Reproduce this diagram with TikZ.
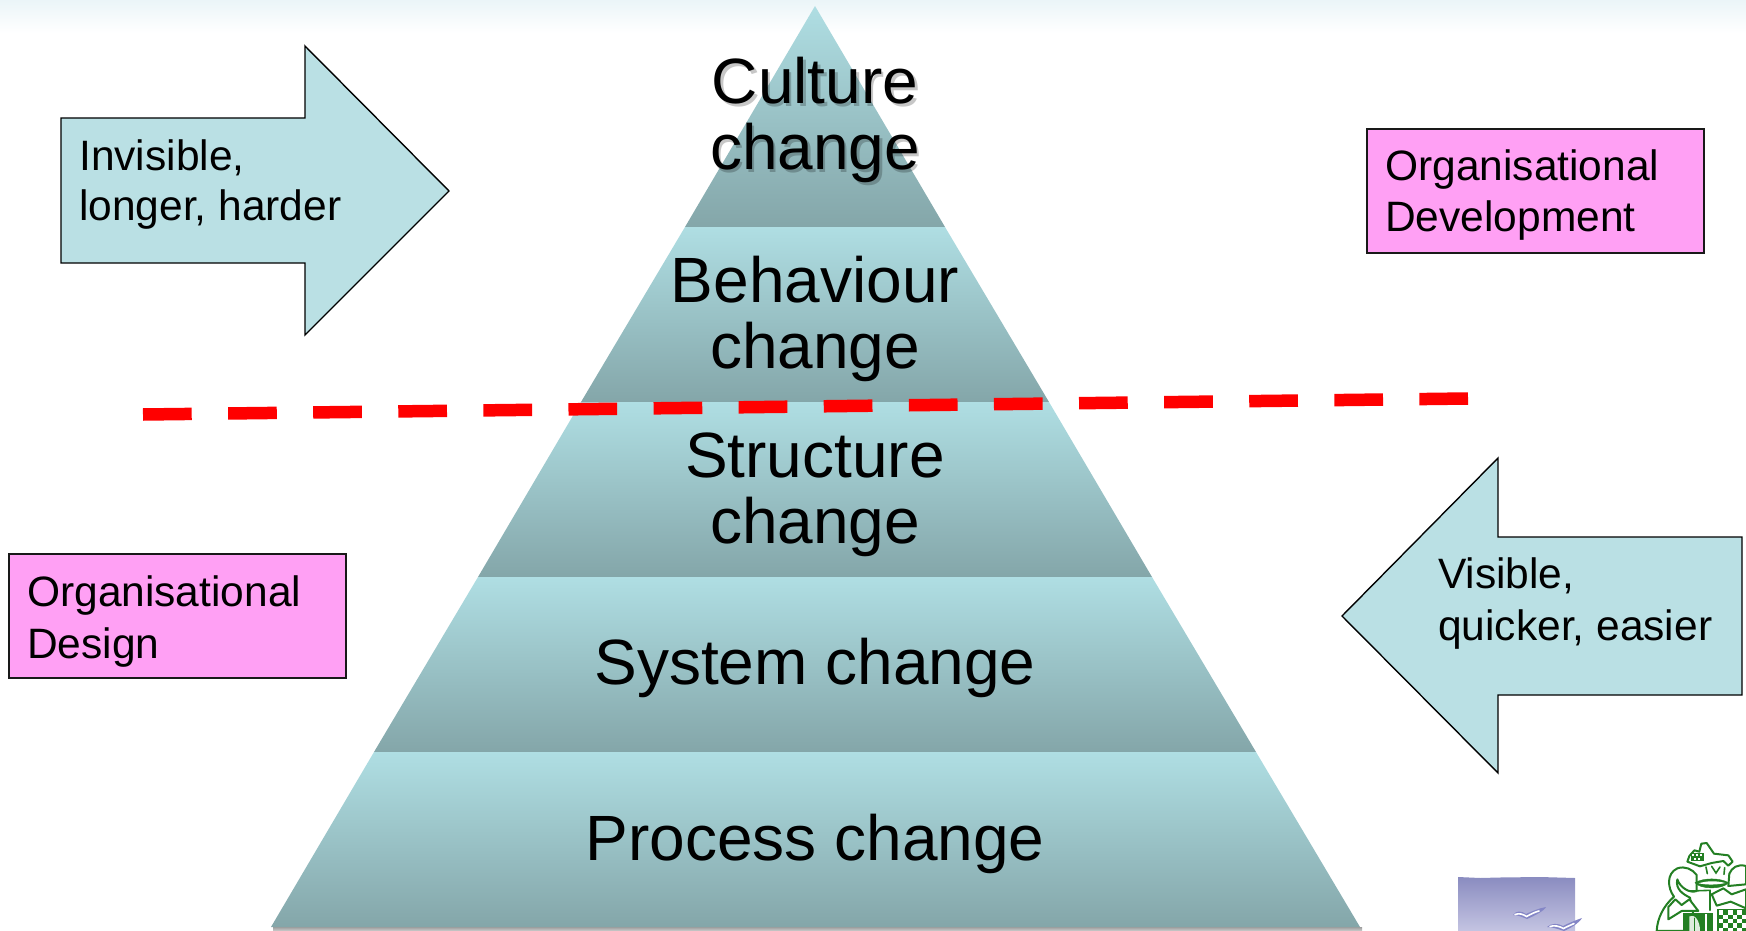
\documentclass[tikz,border=0pt]{standalone}
\usepackage{fontspec}
\setmainfont{Liberation Sans}
\definecolor{bandtop}{HTML}{AFDEE3}
\definecolor{bandbot}{HTML}{84A6A9}
\definecolor{arrowfill}{HTML}{BAE0E4}
\definecolor{pinkfill}{HTML}{FFA0F4}
\definecolor{crestgreen}{HTML}{237F23}
\definecolor{logotop}{HTML}{8A8CC0}
\definecolor{logobot}{HTML}{C4C4E2}
\definecolor{birdblue}{HTML}{8486C6}
\definecolor{pagetint}{HTML}{EBF5F8}
\tikzset{
  band/.style={top color=bandtop,bottom color=bandbot,draw=none},
  bigarrow/.style={draw=black,line width=1.4pt,fill=arrowfill,line join=miter},
  pinkbox/.style={draw=black!90,line width=1.6pt,fill=pinkfill,inner sep=0pt,rectangle},
  smalltext/.style={font=\fontsize{42.5}{51.5}\selectfont,align=left,inner sep=0pt,anchor=base west,text=black},
  invtext/.style={smalltext,font=\fontsize{42.5}{50}\selectfont},
  bigtext/.style={font=\fontsize{64}{65.5}\selectfont,align=center,inner sep=0pt,anchor=base,text=black},
  cutline/.style={draw=red,line width=12.5pt,dash pattern=on 48.7pt off 36.4pt},
  crestline/.style={draw=crestgreen,line width=2pt,line join=round,line cap=round,fill=white},
  crestthin/.style={draw=crestgreen,line width=1.6pt,line cap=round},
}
\begin{document}
\begin{tikzpicture}[x=1pt,y=-1pt]
\useasboundingbox (0,0) rectangle (1746,931);
% top tint of the page
\shade[top color=pagetint,bottom color=white] (0,0) rectangle (1746,33);
% soft shadow beneath the pyramid
\shade[top color=black!38,bottom color=white] (273,927) rectangle (1362,935);
% pyramid bands
\shade[band] (815,6) -- (945,227) -- (685,227) -- cycle;
\shade[band] (685,227) -- (945,227) -- (1049,402) -- (581,402) -- cycle;
\shade[band] (581,402) -- (1049,402) -- (1152,577) -- (478,577) -- cycle;
\shade[band] (478,577) -- (1152,577) -- (1256,752) -- (374,752) -- cycle;
\shade[band] (374,752) -- (1256,752) -- (1360,927) -- (271,927) -- cycle;
% pyramid labels
\node[bigtext,text=black,opacity=.22] (cultureshadow) at (817.5,172) {Culture\\change};
\node[bigtext] (culture) at (815,169) {Culture\\change};
\node[bigtext] (behaviour) at (815,368) {Behaviour\\change};
\node[bigtext] (structure) at (815,543) {Structure\\change};
\node[bigtext] (system) at (815,684) {System change};
\node[bigtext] (process) at (815,860) {Process change};
% dashed divider
\coordinate (cutL) at (143,414.5);
\coordinate (cutR) at (1468,398.5);
\draw[cutline] (cutL) -- (cutR);
% arrows
\draw[bigarrow] (61,118) -- (305,118) -- (305,46) -- (449,191) -- (305,335) -- (305,263) -- (61,263) -- cycle;
\node[invtext] (inv) at (79,220.5) {Invisible,\\longer, harder};
\draw[bigarrow] (1742,537) -- (1498,537) -- (1498,458) -- (1342,616) -- (1498,773) -- (1498,695) -- (1742,695) -- cycle;
\node[smalltext] (vis) at (1438,640) {Visible,\\quicker, easier};
% pink boxes
\node[pinkbox,minimum width=337pt,minimum height=124pt] (odbox) at (1535.5,191) {};
\node[smalltext] (od) at (1385,231.5) {Organisational\\Development};
\node[pinkbox,minimum width=337pt,minimum height=124pt] (dbox) at (177.5,616) {};
\node[smalltext] (de) at (27,658) {Organisational\\Design};
% logo with birds
\shade[top color=logotop,bottom color=logobot] (1458,877) -- (1480,878) -- (1500,877.5) -- (1540,877) -- (1575,878) -- (1575,931) -- (1458,931) -- cycle;
\fill[birdblue] (1513,915) .. controls (1516,910) and (1522,911) .. (1526,914) .. controls (1532,911) and (1540,908) .. (1546,907) .. controls (1544,911) and (1534,916) .. (1527,919) .. controls (1522,917) and (1518,915) .. (1513,915) -- cycle;
\draw[white,line width=1.6pt,line cap=round] (1515,914.5) .. controls (1519,913) and (1523,914) .. (1526.5,916.5) .. controls (1531,914) and (1535,912) .. (1539,911);
\fill[birdblue] (1547,927) .. controls (1551,923) and (1558,923) .. (1563,926) .. controls (1569,923) and (1576,920) .. (1582,918) .. controls (1579,923) and (1571,928) .. (1564,931) .. controls (1558,929) and (1552,927) .. (1547,927) -- cycle;
\draw[white,line width=1.6pt,line cap=round] (1550,926.5) .. controls (1554,925) and (1559,926) .. (1563.5,928.5) .. controls (1567,926.5) and (1571,925) .. (1574,923.5);
% crest (drawn in the reference's 3x crop coordinates)
\begin{scope}[shift={(1600,831)},x=.3333pt,y=-.3333pt]
  % left mantling
  \path[crestline] (170,300) .. controls (172,262) and (190,225) .. (222,197)
     .. controls (203,172) and (198,128) .. (232,112) .. controls (255,104) and (278,115) .. (290,132)
     -- (290,180) .. controls (270,188) and (240,170) .. (232,145) .. controls (225,175) and (250,190) .. (270,200) -- (290,300) -- cycle;
  % right mantling
  \path[crestline] (438,105) .. controls (412,98) and (396,110) .. (388,128) -- (385,165) -- (438,160) -- cycle;
  % lion
  \path[crestline] (268,75) -- (283,58) -- (298,62) -- (304,38) -- (320,36) -- (342,68) -- (385,73)
     -- (398,92) -- (385,104) -- (370,90) -- (335,96) -- (300,106) -- (262,92) -- cycle;
  \fill[crestgreen] (272,66) rectangle (312,90);
  \foreach \a/\b in {277/70,289/70,301/70,283/80,295/80} \fill[white] (\a,\b) rectangle +(6,6);
  \draw[crestthin] (318,108) -- (322,128) (335,106) -- (348,126) -- (360,108) (374,110) -- (372,130);
  % helmet band
  \path[fill=crestgreen,draw=crestgreen] (285,155) .. controls (310,140) and (360,140) .. (385,155) .. controls (370,176) and (300,176) .. (285,155) -- cycle;
  \fill[white] (296,157) .. controls (320,149) and (350,149) .. (376,156) .. controls (350,162) and (320,162) .. (296,157) -- cycle;
  % leaves
  \path[crestline] (205,228) -- (226,205) -- (245,222) -- (268,205) -- (295,240) -- (245,240) -- (205,265) -- cycle;
  \path[crestline] (335,190) -- (370,172) -- (395,190) -- (438,175) -- (438,232) -- (392,212) -- (350,224) -- cycle;
  \draw[crestthin] (270,180) -- (330,178) -- (330,238);
  % shield, left half
  \fill[crestgreen] (248,245) rectangle (338,300);
  \fill[white!85!crestgreen] (268,256) .. controls (285,248) and (300,270) .. (300,300) -- (268,300) -- cycle;
  \draw[crestthin] (283,262) -- (283,300);
  \fill[white] (315,250) rectangle (320,300);
  % shield, right half: chequers
  \fill[crestgreen] (352,235) rectangle (438,300);
  \foreach \a in {0,2,4} \foreach \b in {0,2,4}
     \fill[white] (356+\a*14,238+\b*13) rectangle +(14,13);
  \foreach \a in {1,3,5} \foreach \b in {1,3}
     \fill[white] (356+\a*14,238+\b*13) rectangle +(14,13);
\end{scope}
\end{tikzpicture}
\end{document}
